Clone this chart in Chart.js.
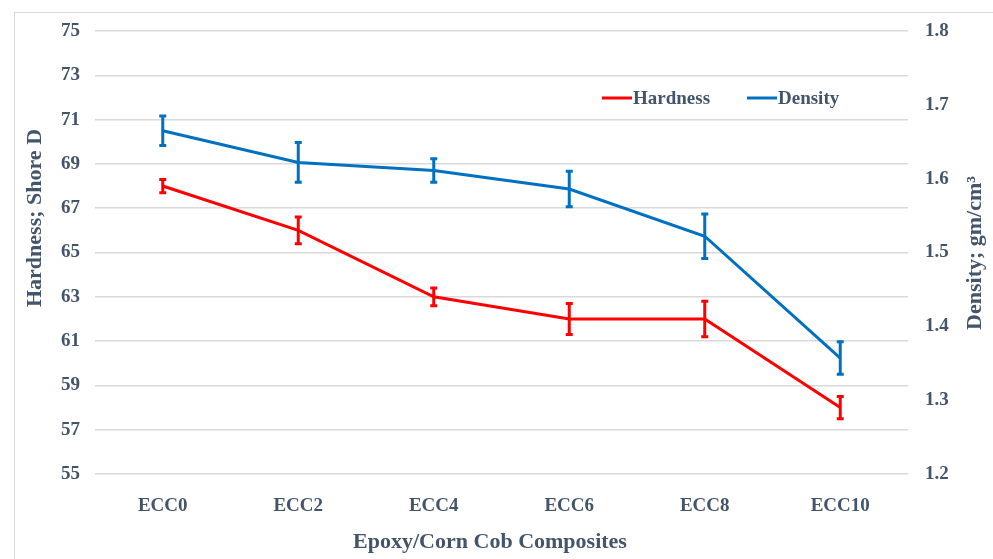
<!DOCTYPE html>
<html>
<head>
<meta charset="utf-8">
<script src="https://cdn.jsdelivr.net/npm/chart.js@4.4.0/dist/chart.umd.min.js"></script>
<style>
  html,body{margin:0;padding:0;background:#fff;}
  #wrap{position:relative;width:993px;height:559px;}
</style>
</head>
<body>
<div id="wrap"><canvas id="myChart" width="993" height="559"></canvas></div>
<script>
// data
const labels = ["ECC0","ECC2","ECC4","ECC6","ECC8","ECC10"];
const hardness = [68, 66, 63, 62, 62, 58];
const hardnessErr = [0.3, 0.6, 0.4, 0.7, 0.8, 0.5];
const density = [1.665, 1.622, 1.611, 1.586, 1.522, 1.357];
const densityErr = [0.02, 0.027, 0.016, 0.024, 0.03, 0.022];

const txtColor = "#44546A";
const serif = "'Liberation Serif','Times New Roman',serif";

// error bars drawn from the scales
const errBars = {
  id: 'errBars',
  afterDatasetsDraw(chart){
    const ctx = chart.ctx;
    chart.data.datasets.forEach((ds, i) => {
      const meta = chart.getDatasetMeta(i);
      const ys = chart.scales[ds.yAxisID];
      ctx.save();
      ctx.strokeStyle = ds.borderColor;
      ctx.lineWidth = 3;
      meta.data.forEach((pt, j) => {
        const top = ys.getPixelForValue(ds.data[j] + ds.err[j]);
        const bot = ys.getPixelForValue(ds.data[j] - ds.err[j]);
        ctx.beginPath();
        ctx.moveTo(pt.x, top); ctx.lineTo(pt.x, bot);
        ctx.moveTo(pt.x - 3.5, top); ctx.lineTo(pt.x + 3.5, top);
        ctx.moveTo(pt.x - 3.5, bot); ctx.lineTo(pt.x + 3.5, bot);
        ctx.stroke();
      });
      ctx.restore();
    });
  }
};

// legend, axis titles, outer frame
const extras = {
  id: 'extras',
  afterDraw(chart){
    const ctx = chart.ctx;
    ctx.save();
    ctx.strokeStyle = "#D9D9D9";
    ctx.lineWidth = 1;
    ctx.strokeRect(14.5, 12.5, 1000, 600);

    ctx.fillStyle = txtColor;
    ctx.textAlign = "center";
    ctx.textBaseline = "middle";
    ctx.font = "bold 22px " + serif;
    ctx.fillText("Epoxy/Corn Cob Composites", 490, 542);

    ctx.save();
    ctx.translate(35, 218);
    ctx.rotate(-Math.PI / 2);
    ctx.fillText("Hardness; Shore D", 0, 0);
    ctx.restore();

    ctx.save();
    ctx.translate(975, 253);
    ctx.rotate(-Math.PI / 2);
    ctx.fillText("Density; gm/cm\u00B3", 0, 0);
    ctx.restore();

    ctx.font = "bold 19px " + serif;
    ctx.textAlign = "left";
    const items = [
      {t: "Hardness", c: "#FF0000", x: 602},
      {t: "Density", c: "#0070C0", x: 747}
    ];
    const y = 98;
    items.forEach(it => {
      ctx.strokeStyle = it.c;
      ctx.lineWidth = 3;
      ctx.beginPath(); ctx.moveTo(it.x, y); ctx.lineTo(it.x + 30, y); ctx.stroke();
      ctx.fillStyle = txtColor;
      ctx.fillText(it.t, it.x + 31, y + 1);
    });
    ctx.restore();
  }
};

const tickFont = {family: serif, size: 19, weight: 'bold'};
// keep the plot box fixed: no extra scale padding
const noPad = s => { s.paddingTop = 0; s.paddingBottom = 0; s.paddingLeft = 0; s.paddingRight = 0; };

new Chart(document.getElementById('myChart'), {
  type: 'line',
  data: {
    labels: labels,
    datasets: [
      {label: "Hardness", data: hardness, err: hardnessErr, yAxisID: 'y',
       borderColor: "#FF0000", backgroundColor: "#FF0000", borderWidth: 3,
       pointRadius: 0, tension: 0},
      {label: "Density", data: density, err: densityErr, yAxisID: 'y1',
       borderColor: "#0070C0", backgroundColor: "#0070C0", borderWidth: 3,
       pointRadius: 0, tension: 0}
    ]
  },
  options: {
    responsive: false,
    animation: false,
    layout: {padding: {left: 0, right: 0, top: 31, bottom: 0}},
    plugins: {legend: {display: false}, tooltip: {enabled: false}},
    scales: {
      x: {
        offset: true,
        grid: {display: false},
        border: {display: false},
        ticks: {color: txtColor, font: tickFont, padding: 13},
        afterFit: s => { s.height = 85; noPad(s); }
      },
      y: {
        position: 'left', min: 55, max: 75,
        ticks: {stepSize: 2, color: txtColor, font: tickFont, padding: 15},
        grid: {color: "#D9D9D9", lineWidth: 1.5, drawTicks: false},
        border: {display: false},
        afterFit: s => { s.width = 95; noPad(s); }
      },
      y1: {
        position: 'right', min: 1.2, max: 1.8,
        ticks: {stepSize: 0.1, color: txtColor, font: tickFont, padding: 9,
                callback: v => v.toFixed(1)},
        grid: {display: false},
        border: {display: false},
        afterFit: s => { s.width = 85; noPad(s); }
      }
    }
  },
  plugins: [errBars, extras]
});
</script>
</body>
</html>
